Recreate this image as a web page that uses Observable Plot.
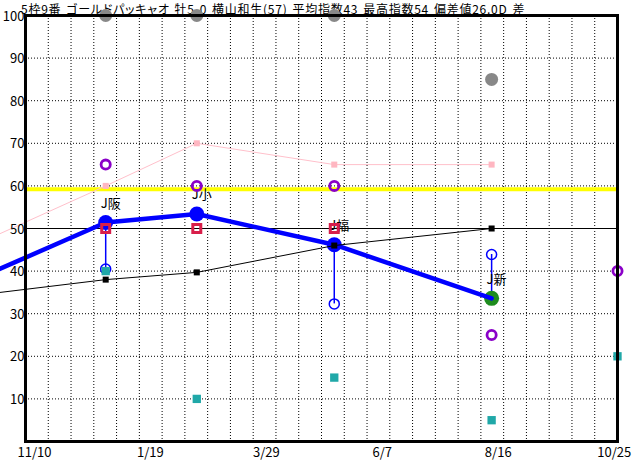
<!DOCTYPE html>
<html>
<head>
<meta charset="utf-8">
<script src="https://cdn.jsdelivr.net/npm/d3@7"></script>
<script src="https://cdn.jsdelivr.net/npm/@observablehq/plot@0.6"></script>
<style>
  body { margin: 0; background: #fff; }
  #wrap { position: relative; width: 632px; height: 460px; overflow: hidden; }
  #title { position: absolute; left: 21px; top: 1px; font-family: "Noto Sans CJK JP"; font-size: 12px;
           font-feature-settings: "palt"; letter-spacing: 0.75px; word-spacing: 1.5px; line-height: 15px;
           white-space: nowrap; color: #000; }
  #chart { position: absolute; left: 0; top: 0; }
</style>
</head>
<body>
<div id="wrap">
  <div id="title"></div>
  <div id="chart"></div>
</div>
<script>
// ---- data ----
const titleText = "5枠9番 ゴールドパッキャオ 牡5 0 横山和生(57) 平均指数43 最高指数54 偏差値26.0D 差";
// race dates; first one lies before the visible window, last one is the upcoming race
const raceDates  = ["2023-10-14", "2023-12-23", "2024-02-16", "2024-05-09", "2024-08-12", "2024-10-27"];
const venues     = [null, "J阪", "J小", "J福", "J新", null];
const mainIndex  = [39.5, 51.4, 53.4, 46.2, 33.6, null];   // thick blue line
const pinkIndex  = [47.7, 60, 70, 65, 65, null];           // light pink line
const blackIndex = [34.7, 38.0, 39.7, 46.0, 50.0, null];   // thin black line
const openBlue   = [null, 40.5, null, 32.3, 43.9, null];   // blue open circles
const redSquares = [null, 50, 50, 50, null, null];         // red hollow squares
const grayDots   = [null, 100, 100, 100, 85, null];
const purpleRing = [null, 65, 60, 60, 25, 40];
const tealSquare = [null, 40, 10, 15, 5, 20];
const yellowLevel = [59.2];
const solidLevel  = [50];
const yGridValues = [10, 20, 30, 40, 60, 70, 80, 90];
const yTickValues = [10, 20, 30, 40, 50, 60, 70, 80, 90, 100];
const xTickLabels = ["2023-11-10", "2024-01-19", "2024-03-29", "2024-06-07", "2024-08-16", "2024-10-25"];

// ---- build ----
document.getElementById("title").textContent = titleText;
const parse = d3.timeParse("%Y-%m-%d");
const rows = raceDates.map((d, i) => ({
  date: parse(d), venue: venues[i], main: mainIndex[i], pink: pinkIndex[i], black: blackIndex[i],
  open: openBlue[i], red: redSquares[i], gray: grayDots[i], purple: purpleRing[i], teal: tealSquare[i]
}));
const lastRace = rows.filter(r => r.main != null).slice(-1)[0];
const def = k => rows.filter(r => r[k] != null);

const d0 = new Date(2023, 10, 4, 14);
const d1 = new Date(2024, 9, 27, 0);
const vGrid = d3.range(1, 26).map(i => new Date(+d0 + i * (d1 - d0) / 26));
const dotted = {stroke: "#000", strokeWidth: 1, strokeDasharray: "1,2"};

const chart = Plot.plot({
  width: 632, height: 460,
  marginLeft: 25, marginRight: 15, marginTop: 15, marginBottom: 19,
  style: {fontFamily: "'Noto Sans CJK JP'", fontSize: "13px", color: "#000"},
  x: {type: "time", domain: [d0, d1]},
  y: {domain: [0, 100]},
  marks: [
    Plot.ruleX(vGrid, dotted),
    Plot.ruleY(yGridValues, dotted),
    Plot.ruleY(solidLevel, {stroke: "#000", strokeWidth: 1}),
    Plot.ruleY(yellowLevel, {stroke: "#ffff00", strokeWidth: 4}),
    Plot.line(def("pink"), {x: "date", y: "pink", stroke: "#ffc0cb", strokeWidth: 1}),
    Plot.dot(def("pink").slice(1), {x: "date", y: "pink", symbol: "square", r: 3.4, fill: "#ffb6c1"}),
    Plot.ruleX(def("open"), {x: "date", y1: "main", y2: "open", stroke: "#0000ff", strokeWidth: 1.5}),
    Plot.dot(def("open"), {x: "date", y: "open", r: 5, stroke: "#0000ff", strokeWidth: 1.5, fill: "none"}),
    Plot.dot(def("teal"), {x: "date", y: "teal", symbol: "square", r: 4.7, fill: "#20a8a8"}),
    Plot.dot(def("main").slice(1).filter(r => r !== lastRace), {x: "date", y: "main", r: 7.5, fill: "#0000ff"}),
    Plot.dot([lastRace], {x: "date", y: "main", r: 7.5, fill: "#1e8c1e"}),
    Plot.line(def("main"), {x: "date", y: "main", stroke: "#0000ff", strokeWidth: 4.5}),
    Plot.line(def("black"), {x: "date", y: "black", stroke: "#000", strokeWidth: 1}),
    Plot.dot(def("black").slice(1), {x: "date", y: "black", symbol: "square", r: 3.4, fill: "#000"}),
    Plot.text(def("venue"), {x: "date", y: "main", text: "venue", textAnchor: "start", dx: -5, dy: -19, fontSize: 13, fill: "#000"}),
    Plot.dot(def("red"), {x: "date", y: "red", symbol: "square", r: 4.5, stroke: "#d81e4a", strokeWidth: 3, fill: "none"}),
    Plot.dot(def("purple"), {x: "date", y: "purple", r: 4.6, stroke: "#8a00c8", strokeWidth: 2.8, fill: "none"}),
    Plot.dot(def("gray"), {x: "date", y: "gray", r: 6.5, fill: "#888888"}),
    Plot.frame({stroke: "#000", strokeWidth: 3}),
    Plot.axisY({ticks: yTickValues, tickSize: 0, tickPadding: 1, fontSize: 13, dy: 1}),
    Plot.axisX({ticks: xTickLabels.map(parse), tickFormat: d3.timeFormat("%-m/%-d"), tickSize: 0, tickPadding: 6, fontSize: 13})
  ]
});
document.getElementById("chart").appendChild(chart);
</script>
</body>
</html>
